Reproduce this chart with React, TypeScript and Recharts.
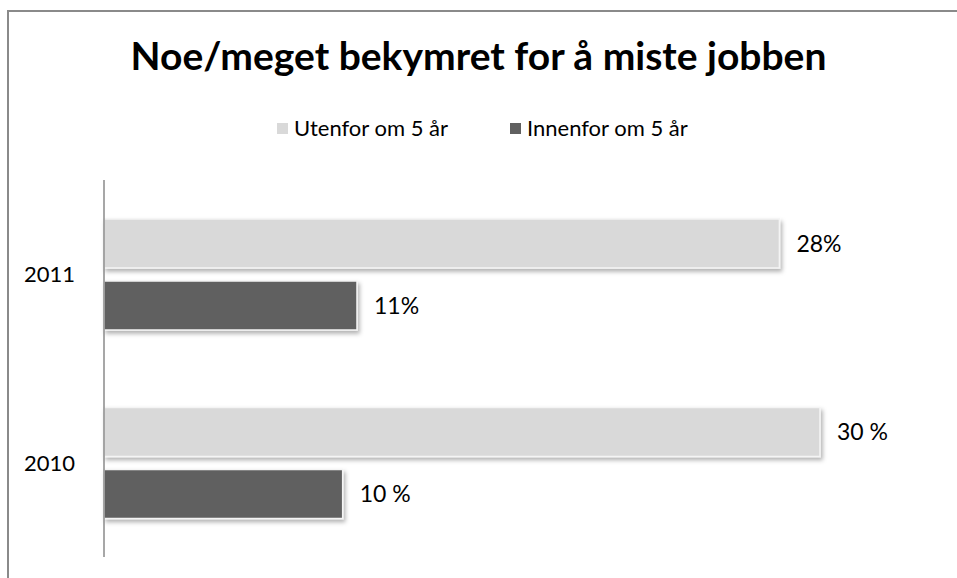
import { BarChart, Bar, XAxis, YAxis, Legend, LabelList } from 'recharts';

const years = ['2011', '2010'];
const utenfor = [28.3, 30];
const innenfor = [10.6, 10];
const utenforLabels = ['28%', '30 %'];
const innenforLabels = ['11%', '10 %'];
const seriesNames = ['Utenfor om 5 år', 'Innenfor om 5 år'];
const seriesColors = ['#d9d9d9', '#606060'];

const data = years.map((year, i) => ({
  year,
  utenfor: utenfor[i],
  innenfor: innenfor[i],
  utenforLabel: utenforLabels[i],
  innenforLabel: innenforLabels[i],
}));

const FONT = 'Lato, "Open Sans", sans-serif';
const LEGEND_H = 26;

function ShadowBar(props: any) {
  const { x, y, width, height, fill } = props;
  return (
    <rect
      x={x}
      y={y}
      width={width}
      height={height}
      fill={fill}
      stroke="#f4f4f4"
      strokeWidth={1.5}
      filter="url(#barShadow)"
    />
  );
}

function LegendBox() {
  return (
    <div style={{ display: 'flex', paddingLeft: 277, height: LEGEND_H, alignItems: 'center', fontFamily: FONT, fontSize: 22, color: '#000' }}>
      {seriesNames.map((name, i) => (
        <div key={name} style={{ display: 'flex', alignItems: 'center', width: i === 0 ? 233 : 'auto' }}>
          <span style={{ width: 11, height: 11, background: seriesColors[i], marginRight: 6, display: 'inline-block', marginTop: 3 }} />
          <span>{name}</span>
        </div>
      ))}
    </div>
  );
}

export default function App() {
  return (
    <div style={{ position: 'absolute', left: 0, top: 0, width: 957, height: 578, background: '#fff', overflow: 'hidden' }}>
      <div style={{ position: 'absolute', left: 7, top: 10, width: 1000, height: 600, borderTop: '2px solid #8a8a8a', borderLeft: '2px solid #8a8a8a' }} />
      <div style={{ position: 'absolute', left: 0, top: 32, width: 957, textAlign: 'center', fontFamily: FONT, fontWeight: 700, fontSize: 39, color: '#000' }}>
        Noe/meget bekymret for å miste jobben
      </div>
      <div style={{ position: 'absolute', left: 0, top: 0 }}>
        <BarChart
          width={957}
          height={578}
          data={data}
          layout="vertical"
          margin={{ top: 180 - LEGEND_H, right: 137, bottom: 21, left: 10 }}
          barGap={13}
          barSize={49}
        >
          <defs>
            <filter id="barShadow" x="-5%" y="-20%" width="115%" height="160%">
              <feDropShadow dx={2} dy={3} stdDeviation={2} floodColor="#000" floodOpacity={0.3} />
            </filter>
          </defs>
          <XAxis type="number" domain={[0, 30]} hide />
          <YAxis
            type="category"
            dataKey="year"
            width={94}
            axisLine={{ stroke: '#8a8a8a', strokeWidth: 1.5 }}
            tickLine={false}
            tickMargin={23}
            tick={{ fill: '#000', fontSize: 22, fontFamily: FONT }}
          />
          <Legend verticalAlign="top" height={LEGEND_H} wrapperStyle={{ top: 114, left: 0, width: 957 }} content={() => <LegendBox />} />
          <Bar dataKey="utenfor" name={seriesNames[0]} fill={seriesColors[0]} shape={ShadowBar} isAnimationActive={false}>
            <LabelList dataKey="utenforLabel" position="right" offset={17} fill="#000" fontSize={23} fontFamily={FONT} />
          </Bar>
          <Bar dataKey="innenfor" name={seriesNames[1]} fill={seriesColors[1]} shape={ShadowBar} isAnimationActive={false}>
            <LabelList dataKey="innenforLabel" position="right" offset={17} fill="#000" fontSize={23} fontFamily={FONT} />
          </Bar>
        </BarChart>
      </div>
    </div>
  );
}
